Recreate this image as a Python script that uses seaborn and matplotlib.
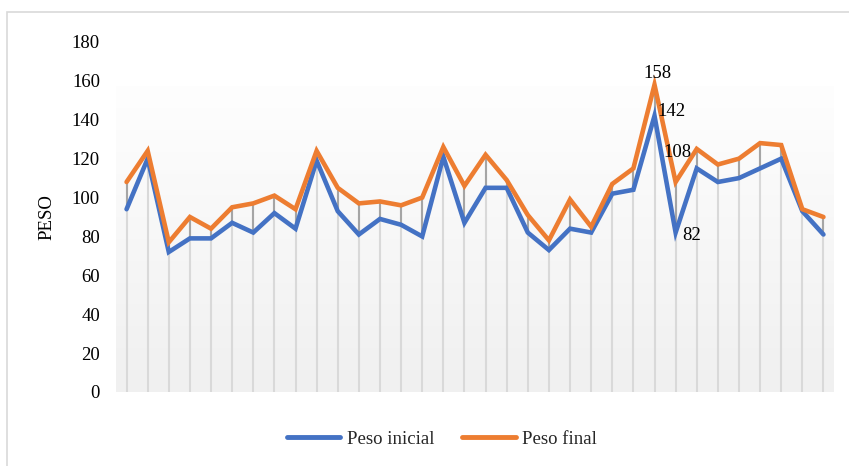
import numpy as np
import pandas as pd
import matplotlib
matplotlib.use("Agg")
import matplotlib.pyplot as plt
from matplotlib.colors import LinearSegmentedColormap
from matplotlib.patches import Rectangle
import seaborn as sns

# Weights per participant (kg)
peso_inicial = [94, 120, 72, 79, 79, 87, 82, 92, 84, 119, 93, 81, 89, 86, 80, 121, 87,
                105, 105, 82, 73, 84, 82, 102, 104, 142, 82, 115, 108, 110, 115, 120, 93, 81]
peso_final = [108, 124, 77, 90, 84, 95, 97, 101, 94, 124, 105, 97, 98, 96, 100, 126, 106,
              122, 109, 91, 78, 99, 85, 107, 115, 158, 108, 125, 117, 120, 128, 127, 94, 90]
series_names = ["Peso inicial", "Peso final"]
y_ticks = [0, 20, 40, 60, 80, 100, 120, 140, 160, 180]

BLUE = "#4472C4"
ORANGE = "#ED7D31"
SERIF = ["Liberation Serif", "DejaVu Serif"]

sns.set_theme(style="white")
plt.rcParams["font.family"] = SERIF

n = len(peso_inicial)
idx = np.arange(n)
df = pd.DataFrame({
    "idx": np.concatenate([idx, idx]),
    "peso": peso_inicial + peso_final,
    "serie": [series_names[0]] * n + [series_names[1]] * n,
})

fig = plt.figure(figsize=(8.49, 4.66), dpi=100)
fig.patch.set_facecolor("white")
ax = fig.add_axes([116 / 849, 1 - 392 / 466, 718 / 849, 350 / 466])

# chart-area frame
fig.patches.append(Rectangle((7 / 849, -0.1), 1.2, 1 - 12 / 466 + 0.1,
                             transform=fig.transFigure, fill=False,
                             edgecolor="#d9d9d9", linewidth=1.2, zorder=0))

# soft vertical gradient behind the plot
cmap = LinearSegmentedColormap.from_list("bg", ["#f0f0f0", "#fefefe"])
grad = np.linspace(0, 1, 256).reshape(-1, 1)
ax.imshow(grad, extent=[-0.5, n - 0.5, 0, 157], origin="lower", aspect="auto",
          cmap=cmap, zorder=0, interpolation="bicubic")

hi = np.maximum(peso_inicial, peso_final)
lo = np.minimum(peso_inicial, peso_final)
# drop lines and high-low lines
ax.vlines(idx, 0, hi, color="#d9d9d9", linewidth=1.5, zorder=1)
ax.vlines(idx, lo, hi, color="#a5a5a5", linewidth=1.5, zorder=2)

sns.lineplot(data=df, x="idx", y="peso", hue="serie", sort=False,
             palette=[BLUE, ORANGE], linewidth=3.3, ax=ax, zorder=3)
for ln in ax.get_lines():
    ln.set_solid_joinstyle("miter")

ax.set_xlim(-0.5, n - 0.5)
ax.set_ylim(0, 180)
ax.set_yticks(y_ticks)
ax.set_yticklabels([str(t) for t in y_ticks], fontsize=13.5, color="black")
ax.set_xticks([])
ax.tick_params(axis="y", length=0, pad=11.5)
ax.set_xlabel("")
ax.set_ylabel("PESO", fontsize=13.5, color="black")
ax.yaxis.set_label_coords(-0.085, 0.5)
for s in ax.spines.values():
    s.set_visible(False)
ax.set_facecolor("white")

# value labels at the peak and the following point
lab_kw = dict(textcoords="offset points", fontsize=13.5, color="black", zorder=5)
k = 25
ax.annotate(str(peso_final[k]), (k, peso_final[k]), xytext=(2.2, 7.8),
            ha="center", va="center", **lab_kw)
ax.annotate(str(peso_inicial[k]), (k, peso_inicial[k]), xytext=(2.2, 3.4),
            ha="left", va="center", **lab_kw)
ax.annotate(str(peso_final[k + 1]), (k + 1, peso_final[k + 1]), xytext=(1.5, 21),
            ha="center", va="center", **lab_kw)
ax.annotate(str(peso_inicial[k + 1]), (k + 1, peso_inicial[k + 1]), xytext=(4.8, -2.1),
            ha="left", va="center", **lab_kw)

sns.move_legend(ax, "center", bbox_to_anchor=(442 / 849, 27 / 466),
                bbox_transform=fig.transFigure, ncol=2, frameon=False, title=None,
                fontsize=13.5, handlelength=2.85, handletextpad=0.35,
                columnspacing=1.5)
for h in ax.get_legend().get_lines():
    h.set_linewidth(3.5)
    h.set_solid_capstyle("round")

fig.savefig("out.png", dpi=100)
